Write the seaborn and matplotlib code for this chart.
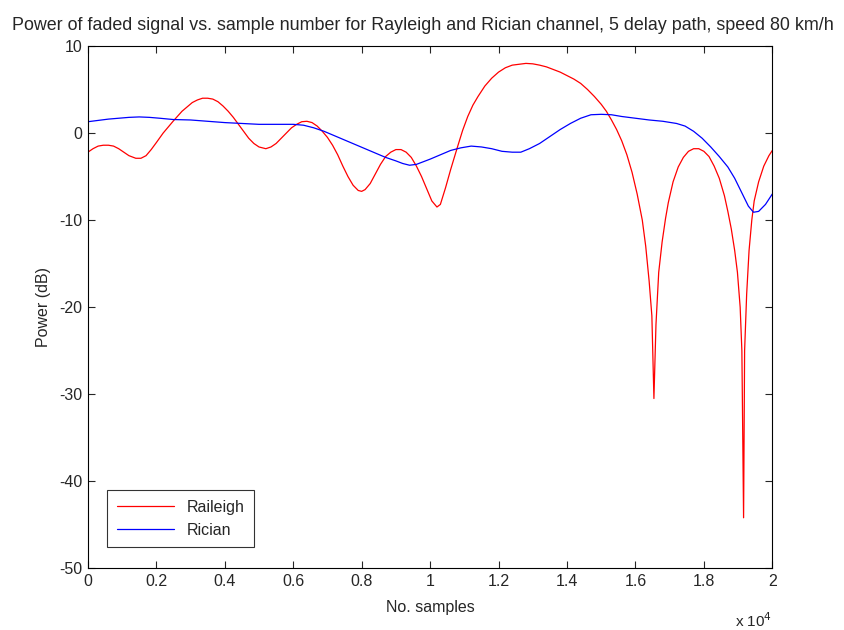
import numpy as np
import matplotlib
matplotlib.use("Agg")
from matplotlib import pyplot as plt
from matplotlib.ticker import FuncFormatter
import seaborn as sns

# Rayleigh ("Raileigh" in legend) faded signal power
ray_x = [0, 150, 300, 450, 600, 750, 900, 1050, 1200, 1400, 1550, 1700, 1850,
         2000, 2200, 2500, 2750, 2900, 3050, 3200, 3350, 3500, 3650, 3800,
         3950, 4100, 4250, 4400, 4550, 4700, 4850, 5000, 5200, 5350, 5500,
         5650, 5800, 5950, 6100, 6250, 6400, 6550, 6700, 6850, 7000, 7150, 7300,
         7450, 7600, 7750, 7900, 8000, 8100, 8250, 8400, 8550, 8700, 8850, 9000,
         9150, 9300, 9450, 9600, 9750, 9900, 10050, 10200, 10300, 10450, 10600,
         10800, 10950, 11100, 11250, 11400, 11600, 11800, 12000, 12200, 12400,
         12600, 12800, 13000, 13200, 13400, 13600, 13800, 14000, 14200, 14400,
         14600, 14800, 15000, 15150, 15300, 15450, 15600, 15750, 15900, 16050,
         16200, 16300, 16400, 16480, 16540, 16600, 16680, 16780, 16880, 16960,
         17100, 17250, 17400, 17550, 17700, 17850, 18000, 18150, 18300, 18450,
         18600, 18700, 18800, 18900, 18980, 19060, 19110, 19160, 19190, 19250,
         19320, 19400, 19470, 19600, 19750, 19900, 20000]
ray_db = [-2.2, -1.8, -1.5, -1.4, -1.4, -1.5, -1.8, -2.2, -2.6, -2.9, -2.9,
          -2.6, -1.9, -1.1, 0.0, 1.4, 2.5, 3.0, 3.5, 3.8, 4.0, 4.0, 3.9, 3.6,
          3.1, 2.5, 1.8, 1.0, 0.2, -0.6, -1.2, -1.6, -1.8, -1.6, -1.2,
          -0.6, 0.0, 0.6, 1.0, 1.3, 1.35, 1.2, 0.8, 0.2, -0.5, -1.4, -2.5,
          -3.8, -5.0, -6.0, -6.6, -6.7, -6.5, -5.8, -4.7, -3.6, -2.7, -2.2, -1.9,
          -1.9, -2.2, -2.8, -3.8, -5.0, -6.4, -7.8, -8.5, -8.2, -6.3, -4.2,
          -1.6, 0.3, 1.9, 3.2, 4.2, 5.4, 6.3, 7.0, 7.5, 7.8,
          7.9, 8.0, 7.95, 7.8, 7.6, 7.3, 7.0, 6.6, 6.2, 5.7,
          5.0, 4.2, 3.3, 2.5, 1.5, 0.4, -0.9, -2.5, -4.5, -7.0,
          -10.0, -13.0, -17.0, -21.0, -30.5, -22.0, -16.0, -12.5, -9.8, -8.0,
          -5.6, -3.9, -2.8, -2.1, -1.8, -1.8, -2.1, -2.7, -3.8, -5.2,
          -7.2, -9.0, -11.0, -13.5, -16.0, -20.0, -25.0, -44.2, -25.0, -18.5,
          -13.5, -10.0, -7.8, -5.6, -3.8, -2.6, -2.0]

# Rician faded signal power
ric_x = [0, 300, 600, 900, 1200, 1500, 1800, 2100, 2500, 3000, 3500, 4000,
         4500, 5000, 5500, 6000, 6300, 6600, 6900, 7200, 7500, 7800, 8100,
         8400, 8700, 9000, 9200, 9400, 9600, 9800, 10000, 10300, 10600, 10900,
         11200, 11500, 11800, 12100, 12400, 12650, 12900, 13200, 13500, 13800,
         14100, 14400, 14700, 15000, 15300, 15600, 16000, 16400, 16800, 17200,
         17450, 17700, 17950, 18200, 18450, 18700, 18900, 19100, 19300, 19450,
         19600, 19800, 20000]
ric_db = [1.3, 1.45, 1.6, 1.7, 1.8, 1.85, 1.8, 1.7, 1.55, 1.5, 1.35, 1.2,
          1.1, 1.0, 1.0, 1.0, 0.9, 0.6, 0.2, -0.3, -0.8, -1.3, -1.8,
          -2.3, -2.8, -3.2, -3.5, -3.7, -3.6, -3.3, -3.0, -2.5, -2.0, -1.7,
          -1.5, -1.6, -1.8, -2.1, -2.2, -2.2, -1.8, -1.2, -0.4, 0.4,
          1.1, 1.7, 2.1, 2.15, 2.1, 1.9, 1.7, 1.5, 1.35, 1.1,
          0.8, 0.2, -0.6, -1.6, -2.7, -3.9, -5.2, -6.8, -8.4, -9.1,
          -9.0, -8.2, -7.0]

x_ticks = list(range(0, 20001, 2000))
y_ticks = [-50, -40, -30, -20, -10, 0, 10]


def main():
    sns.set_style("ticks")
    plt.rcParams["font.family"] = ["Liberation Sans", "DejaVu Sans"]
    plt.rcParams["axes.unicode_minus"] = False

    fig = plt.figure(figsize=(8.45, 6.3), dpi=100)
    ax = fig.add_axes([0.104, 0.098, 0.810, 0.829])

    sns.lineplot(x=ray_x, y=ray_db, color="#ff0000", linewidth=0.9,
                 label="Raileigh", ax=ax)
    sns.lineplot(x=ric_x, y=ric_db, color="#0000ff", linewidth=0.9,
                 label="Rician", ax=ax)

    ax.set_xlim(0, 20000)
    ax.set_ylim(-50, 10)
    ax.set_xticks(x_ticks)
    ax.set_yticks(y_ticks)
    ax.xaxis.set_major_formatter(FuncFormatter(lambda v, p: f"{v / 1e4:g}"))
    ax.tick_params(direction="in", top=True, right=True, length=5,
                   width=0.8, labelsize=11.5, pad=4)
    for s in ax.spines.values():
        s.set_visible(True)
        s.set_linewidth(0.8)
        s.set_color("black")

    # title is centred on the figure in the original, not on the axes
    fig.text(0.5, 1 - 26 / 630, "Power of faded signal vs. sample number for "
             "Rayleigh and Rician channel, 5 delay path, speed 80 km/h",
             ha="center", va="center", fontsize=12.9)
    ax.set_xlabel("No. samples", fontsize=11.5, labelpad=8)
    ax.set_ylabel("Power (dB)", fontsize=11.5, labelpad=6)
    ax.text(1.0, -0.1, "x 10$^4$", transform=ax.transAxes, ha="right",
            va="center", fontsize=11)

    leg = ax.legend(loc="lower left", bbox_to_anchor=(0.028, 0.04),
                    borderaxespad=0, fontsize=11.5, frameon=True,
                    fancybox=False, handlelength=3.6, borderpad=0.6,
                    labelspacing=0.5)
    leg.get_frame().set_edgecolor("black")
    leg.get_frame().set_linewidth(0.8)

    fig.savefig("out.png", dpi=100, facecolor="white")


if __name__ == "__main__":
    main()
